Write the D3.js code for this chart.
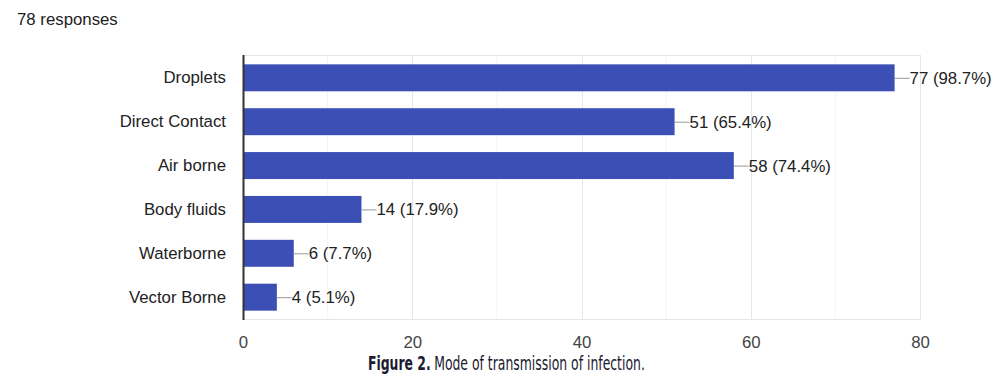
<!DOCTYPE html>
<html>
<head>
<meta charset="utf-8">
<script src="https://cdn.jsdelivr.net/npm/d3@7"></script>
<style>
  html, body { margin: 0; padding: 0; background: #fff; }
  svg { display: block; }
</style>
</head>
<body>
<svg id="chart" width="1005" height="381"></svg>
<script>
const categories = ["Droplets", "Direct Contact", "Air borne", "Body fluids", "Waterborne", "Vector Borne"];
const counts = [77, 51, 58, 14, 6, 4];
const percents = ["98.7%", "65.4%", "74.4%", "17.9%", "7.7%", "5.1%"];
const majorTicks = [0, 20, 40, 60, 80];
const minorTicks = [10, 30, 50, 70];
const responsesLabel = "78 responses";
const captionBold = "Figure 2.";
const captionRest = "Mode of transmission of infection.";

(function () {
const svg = d3.select("#chart");
const pLeft = 243, pRight = 920, pTop = 56, pBottom = 319;
const font = "Arial, 'Liberation Sans', Helvetica, sans-serif";
const fs = 16.8;

const x = d3.scaleLinear().domain([0, 80]).range([pLeft, pRight]);
const y = d3.scaleBand().domain(categories).range([pTop, pBottom]).paddingInner(0.385).paddingOuter(0.19);

// minor grid
svg.append("g").selectAll("line").data(minorTicks).join("line")
  .attr("x1", d => x(d)).attr("x2", d => x(d))
  .attr("y1", pTop - 1).attr("y2", pBottom)
  .attr("stroke", "#f4f4f4").attr("stroke-width", 1);
// major grid
svg.append("g").selectAll("line").data(majorTicks.slice(1)).join("line")
  .attr("x1", d => Math.round(x(d)) + 0.5).attr("x2", d => Math.round(x(d)) + 0.5)
  .attr("y1", pTop - 1).attr("y2", pBottom)
  .attr("stroke", "#e6e6e6").attr("stroke-width", 1);
// top/bottom border
[pTop - 1, pBottom].forEach(yy => {
  svg.append("line").attr("x1", pLeft).attr("x2", x(80) + 1)
    .attr("y1", yy + 0.5).attr("y2", yy + 0.5)
    .attr("stroke", "#e6e6e6");
});

// bars
svg.append("g").selectAll("rect").data(categories).join("rect")
  .attr("x", x(0))
  .attr("y", d => y(d))
  .attr("width", (d, i) => x(counts[i]) - x(0))
  .attr("height", y.bandwidth())
  .attr("fill", "#3c4fb5");

// axis line
svg.append("line").attr("x1", pLeft + 0.5).attr("x2", pLeft + 0.5)
  .attr("y1", pTop - 1).attr("y2", pBottom + 1)
  .attr("stroke", "#333").attr("stroke-width", 2);

// leader lines + value labels
const lab = svg.append("g");
categories.forEach((c, i) => {
  const xe = x(counts[i]);
  const yc = y(c) + y.bandwidth() / 2;
  lab.append("line").attr("x1", xe).attr("x2", xe + 15)
    .attr("y1", yc + 0.5).attr("y2", yc + 0.5)
    .attr("stroke", "#999").attr("stroke-width", 1);
  lab.append("text").attr("x", xe + 15).attr("y", yc + 6)
    .attr("font-family", font).attr("font-size", fs).attr("fill", "#222")
    .text(counts[i] + " (" + percents[i] + ")");
});

// category labels
const yAxis = d3.axisLeft(y).tickSize(0).tickPadding(17);
const ya = svg.append("g").attr("transform", `translate(${pLeft},0)`).call(yAxis);
ya.select(".domain").remove();
ya.selectAll("text").attr("font-family", font).attr("font-size", fs).attr("fill", "#222");

// x axis tick labels
const xAxis = d3.axisBottom(x).tickValues(majorTicks).tickSize(0).tickPadding(11);
const xa = svg.append("g").attr("transform", `translate(0,${pBottom + 6})`).call(xAxis);
xa.select(".domain").remove();
xa.selectAll("text").attr("font-family", font).attr("font-size", fs).attr("fill", "#444");

// responses
svg.append("text").attr("x", 17).attr("y", 25)
  .attr("font-family", font).attr("font-size", fs).attr("fill", "#222")
  .text(responsesLabel);

// caption (two pieces, fitted to reference width)
const capFont = "'Liberation Sans Narrow', 'DejaVu Sans Condensed', Arial, sans-serif";
const capG = svg.append("g");
const t1 = capG.append("text").attr("x", 0).attr("y", 0)
  .attr("font-family", capFont).attr("font-size", 20).attr("font-weight", "bold")
  .attr("fill", "#1b1b2f").text(captionBold);
const w1 = t1.node().getComputedTextLength();
const gap = 5;
const t2 = capG.append("text").attr("x", w1 + gap).attr("y", 0)
  .attr("font-family", capFont).attr("font-size", 20)
  .attr("fill", "#1b1b2f").text(captionRest);
const w2 = t2.node().getComputedTextLength();
const total = w1 + gap + w2;
const targetW = 277, targetX = 368;
const s = targetW / total;
capG.attr("transform", `translate(${targetX},370) scale(${s},1)`);
})();
</script>
</body>
</html>
